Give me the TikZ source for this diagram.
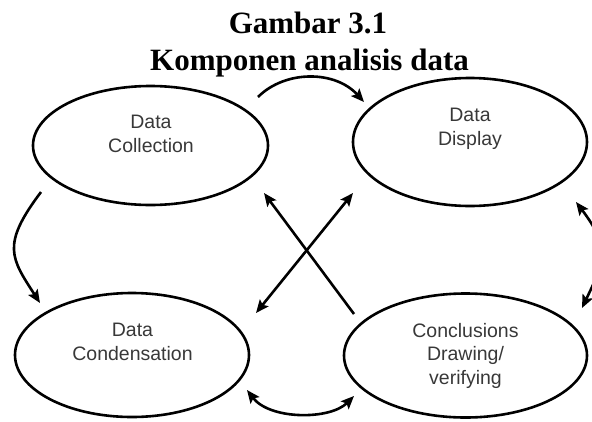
\documentclass[tikz,border=0pt]{standalone}
\usepackage{fontspec}
\setmainfont{Liberation Serif}
\newfontfamily\labelfont{Liberation Sans}
\usetikzlibrary{shapes.geometric,arrows.meta}
\begin{document}
\begin{tikzpicture}[x=1pt,y=-1pt,
  ell/.style={draw, ellipse, line width=2.6pt, inner sep=0pt},
  lbl/.style={font=\labelfont\fontsize{19.5}{23.5}\selectfont, text=black!78, align=center, inner sep=0pt, anchor=north},
  ttl/.style={font=\bfseries\fontsize{31}{37}\selectfont, inner sep=0pt, anchor=base},
  conn/.style={line width=2.6pt},
  >={Stealth[length=13pt,width=11pt,inset=2.5pt]}
]
\useasboundingbox (0,0) rectangle (592,421);
\clip (0,0) rectangle (592,421);

% title
\node[ttl] (t1) at (308,33) {Gambar 3.1};
\node[ttl] (t2) at (309.5,70) {Komponen analisis data};

% ellipses
\node[ell, minimum width=235pt, minimum height=119pt] (coll) at (150.5,145.5) {};
\node[ell, minimum width=234pt, minimum height=128pt] (disp) at (470,142) {};
\node[ell, minimum width=234pt, minimum height=124pt] (cond) at (132,355) {};
\node[ell, minimum width=243pt, minimum height=124pt] (conc) at (465.5,355.5) {};

% labels
\node[lbl] (collt) at (151,115) {Data\\Collection};
\node[lbl] (dispt) at (470,108) {Data\\Display};
\node[lbl] (condt) at (132.5,323) {Data\\Condensation};
\node[lbl] (conct) at (465.5,323) {Conclusions\\Drawing/\\verifying};

% connector end points
\coordinate (a1s) at (258,97);  \coordinate (a1e) at (364,102);
\coordinate (a2s) at (41,192);  \coordinate (a2e) at (40,303);
\coordinate (a3s) at (576,202); \coordinate (a3e) at (582,308);
\coordinate (a4s) at (247,390); \coordinate (a4e) at (354,396);
\coordinate (x1s) at (354,314); \coordinate (x1e) at (264,193);
\coordinate (x2s) at (256,313); \coordinate (x2e) at (353,193);

% connectors
\draw[conn,->] (a1s) .. controls (285,70) and (335,70) .. (a1e);
\draw[conn,->] (a2s) .. controls (1,245) and (11,258) .. (a2e);
\draw[conn,<->] (a3s) .. controls (611,248) and (604,262) .. (a3e);
\draw[conn,<->] (a4s) .. controls (270,420) and (330,420) .. (a4e);
\draw[conn,->] (x1s) -- (x1e);
\draw[conn,<->] (x2s) -- (x2e);
\end{tikzpicture}
\end{document}
